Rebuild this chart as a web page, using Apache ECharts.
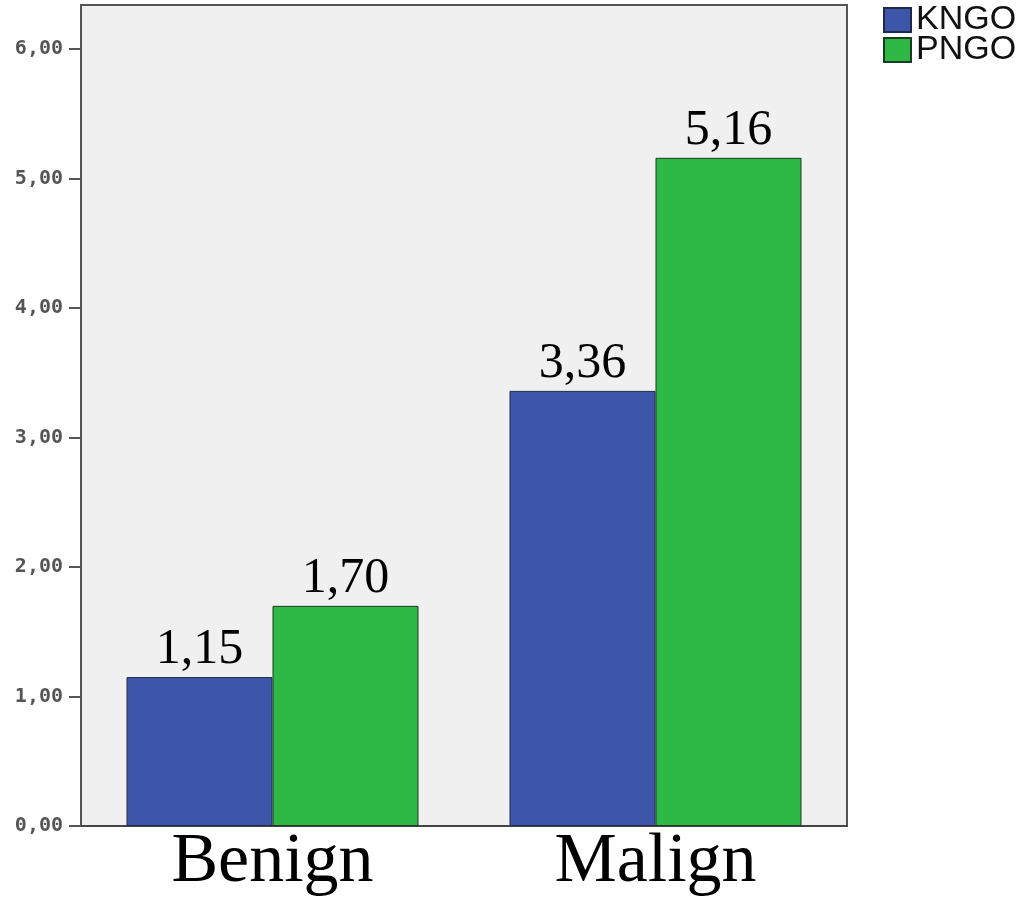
<!DOCTYPE html>
<html>
<head>
<meta charset="utf-8">
<style>
  html, body { margin: 0; padding: 0; background: #fff; }
  #chart { width: 1034px; height: 906px; }
</style>
<script src="https://cdn.jsdelivr.net/npm/echarts@6/dist/echarts.min.js"></script>
</head>
<body>
<div id="chart"></div>
<script>
// data
var categories = ['Benign', 'Malign'];
var kngoValues = [1.15, 3.36];
var pngoValues = [1.70, 5.16];
var yTicks = [0, 1, 2, 3, 4, 5, 6];

function comma(v, d) {
  return Number(v).toFixed(d).replace('.', ',');
}

var chart = echarts.init(document.getElementById('chart'));

var barLabel = {
  show: true,
  position: 'top',
  distance: 2,
  color: '#000',
  fontFamily: '"Liberation Serif", "Times New Roman", serif',
  fontSize: 50,
  formatter: function (p) { return comma(p.value, 2); }
};

var option = {
  animation: false,
  backgroundColor: '#fff',
  grid: {
    left: 81, top: 5, right: 187, bottom: 80,
    show: true,
    backgroundColor: '#f0f0f0',
    borderColor: '#555',
    borderWidth: 2
  },
  legend: {
    orient: 'vertical',
    left: 883,
    top: 3,
    padding: 0,
    itemWidth: 27,
    itemHeight: 24,
    itemGap: -4,
    icon: 'rect',
    textStyle: {
      fontFamily: '"Liberation Sans", Arial, sans-serif',
      fontSize: 34,
      color: '#111'
    },
    data: ['KNGO', 'PNGO']
  },
  xAxis: {
    type: 'category',
    data: categories,
    axisLine: { lineStyle: { color: '#444', width: 2 } },
    axisTick: { show: false },
    axisLabel: {
      color: '#000',
      fontFamily: '"Liberation Serif", "Times New Roman", serif',
      fontSize: 70,
      margin: 2
    }
  },
  yAxis: {
    type: 'value',
    min: 0,
    max: 6.34,
    splitLine: { show: false },
    axisLine: { show: true, lineStyle: { color: '#555', width: 2 } },
    axisTick: {
      show: true,
      length: 12,
      lineStyle: { color: '#555', width: 2 },
      customValues: yTicks
    },
    axisLabel: {
      color: '#555',
      fontFamily: '"DejaVu Sans Mono", monospace',
      fontWeight: 'bold',
      fontSize: 20,
      margin: 18,
      customValues: yTicks,
      formatter: function (v) { return comma(v, 2); }
    }
  },
  series: [
    {
      name: 'KNGO',
      type: 'bar',
      data: kngoValues,
      barWidth: 146,
      barGap: '0%',
      itemStyle: { color: '#3d56aa', borderColor: '#1e2a4a', borderWidth: 1 },
      label: barLabel
    },
    {
      name: 'PNGO',
      type: 'bar',
      data: pngoValues,
      barWidth: 146,
      barGap: '0%',
      itemStyle: { color: '#2eb846', borderColor: '#1f3a22', borderWidth: 1 },
      label: barLabel
    }
  ]
};

chart.setOption(option);
</script>
</body>
</html>
